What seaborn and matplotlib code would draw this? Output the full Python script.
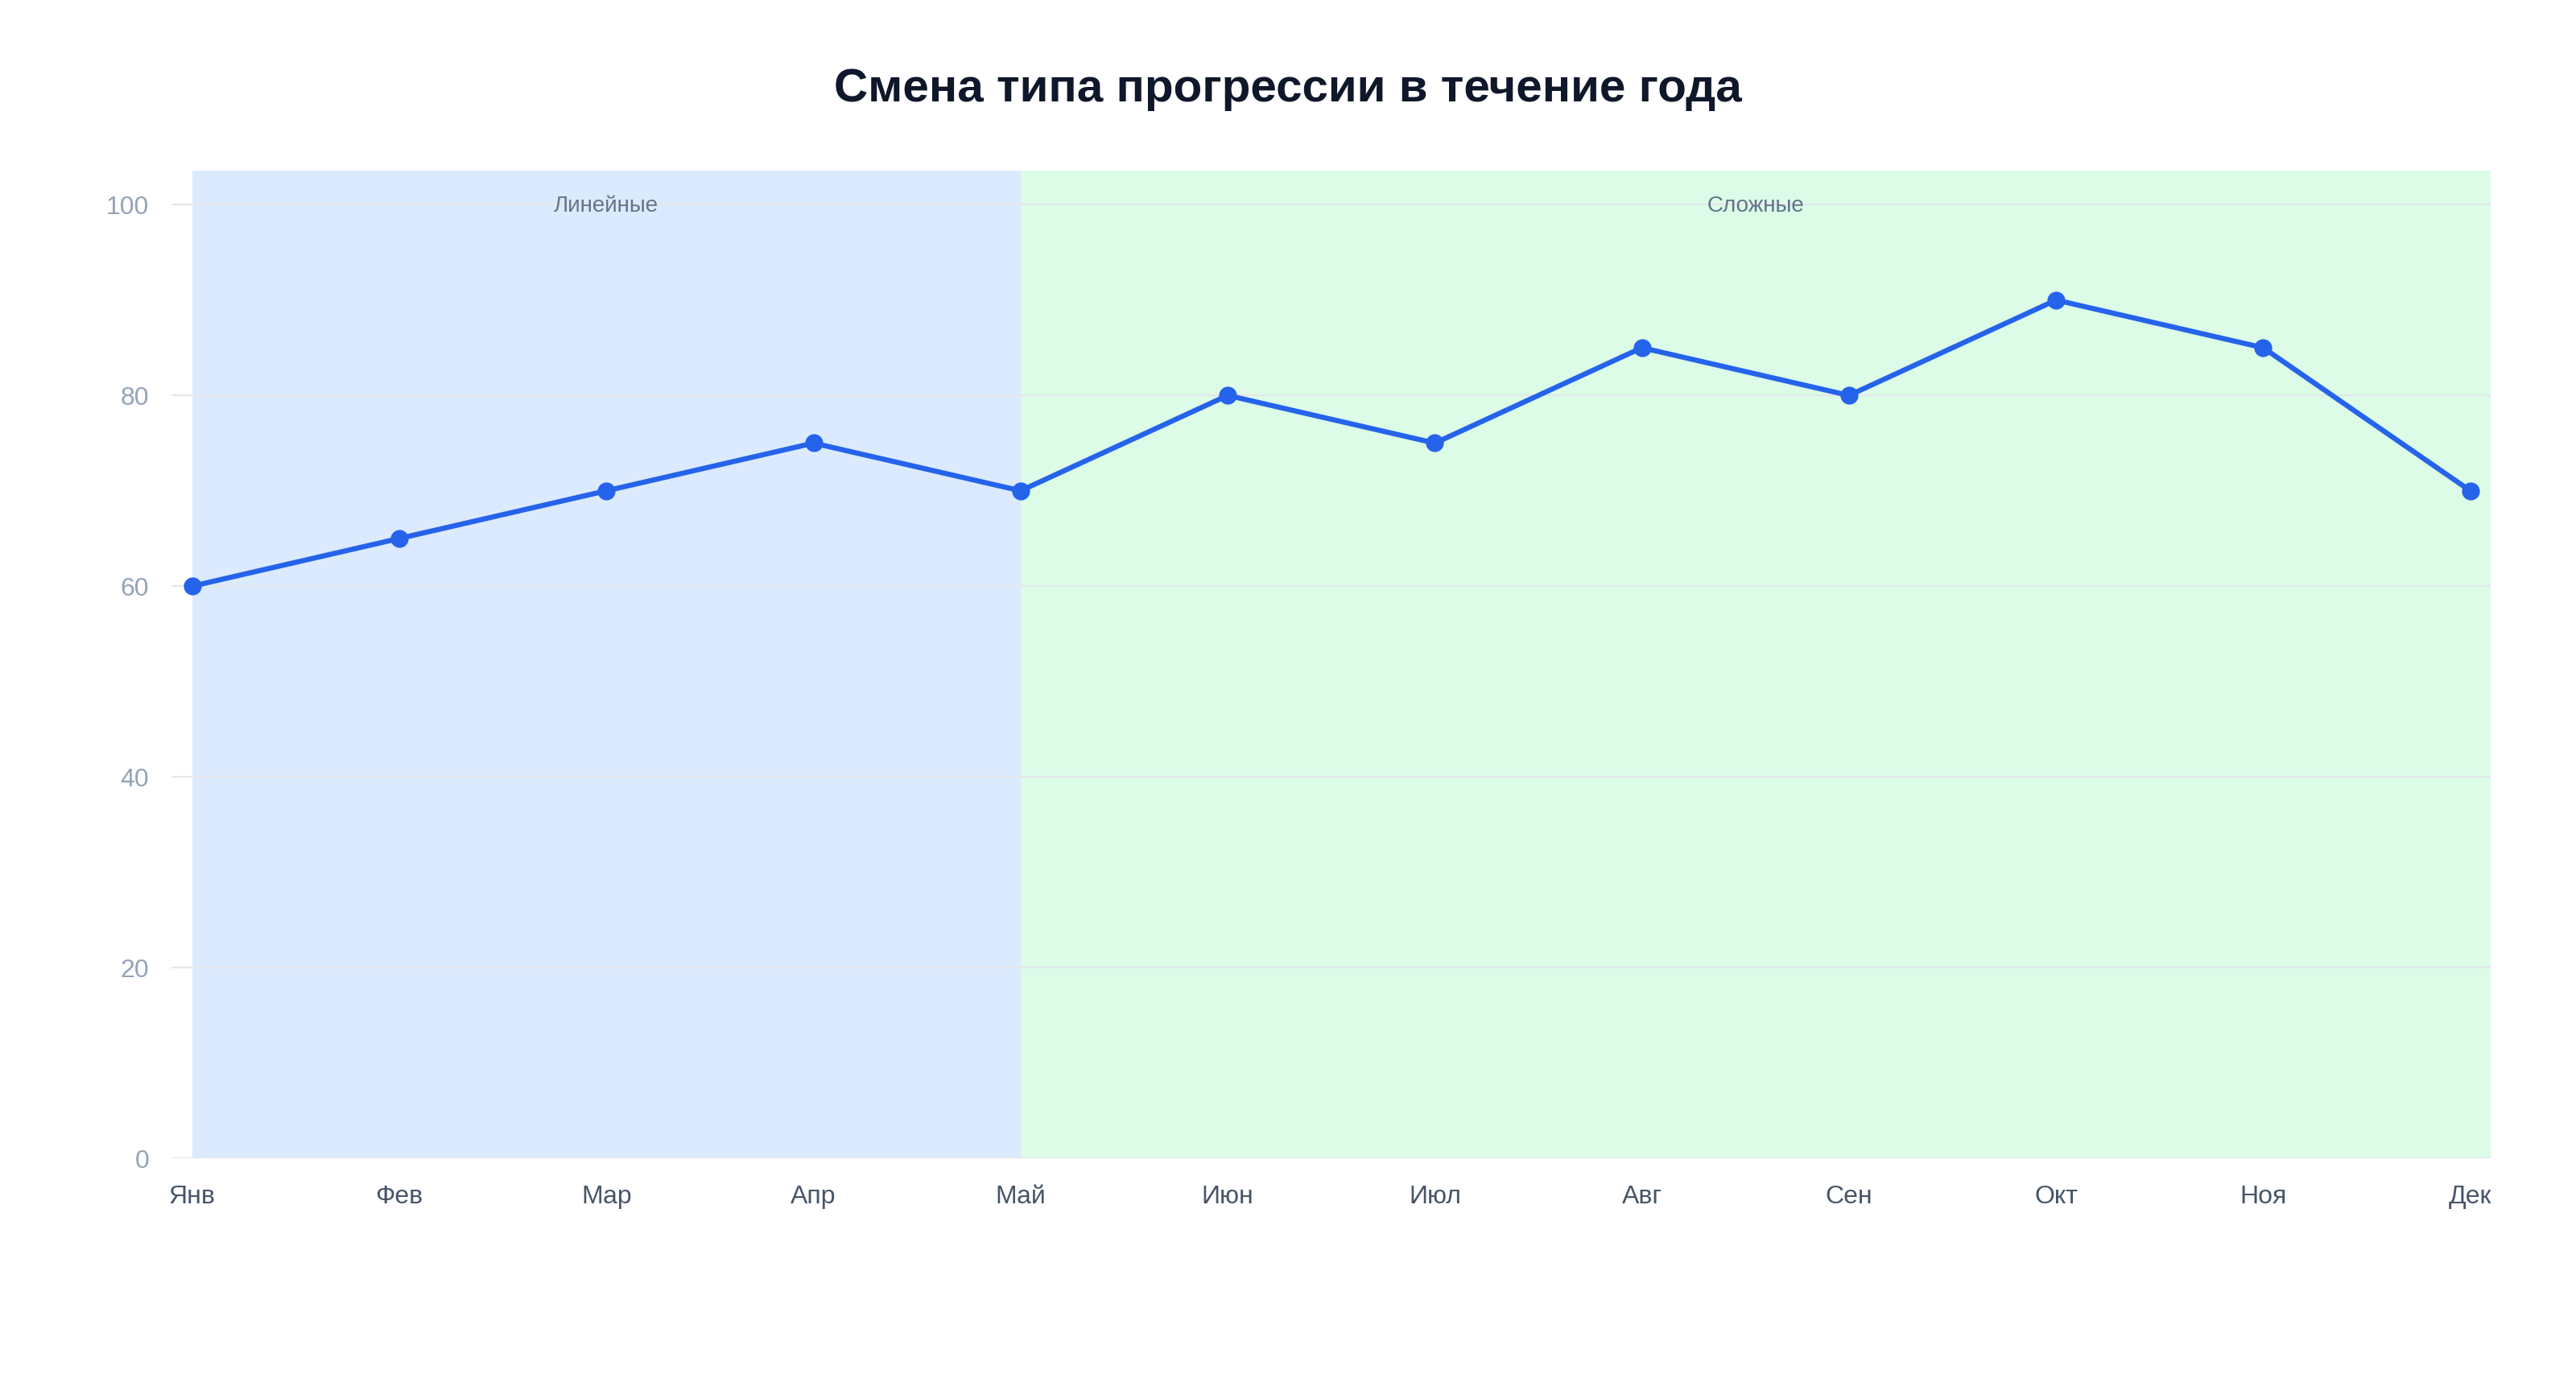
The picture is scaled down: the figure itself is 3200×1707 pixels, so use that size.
import matplotlib
matplotlib.use('Agg')
import matplotlib.pyplot as plt
from matplotlib.transforms import Bbox
import seaborn as sns
import pandas as pd

# Chart data
months = ['Янв', 'Фев', 'Мар', 'Апр', 'Май', 'Июн', 'Июл', 'Авг', 'Сен', 'Окт', 'Ноя', 'Дек']
values = [60, 65, 70, 75, 70, 80, 75, 85, 80, 90, 85, 70]
phase_names = ['Линейные', 'Сложные']
phase_bounds = [('Янв', 'Май'), ('Май', None)]  # None -> to the right edge
phase_colors = ['#dbeafe', '#dcfce7']
y_ticks = [0, 20, 40, 60, 80, 100]

df = pd.DataFrame({'month': months, 'value': values})

sns.set_theme(style='white')
plt.rcParams['font.family'] = ['Liberation Sans', 'DejaVu Sans']

fig, ax = plt.subplots(figsize=(16, 8.535), dpi=200)
fig.subplots_adjust(left=0.0666, right=0.967, top=0.876, bottom=0.157)

x_lo, x_hi = -0.1, len(months) - 1 + 0.1

# shaded phases, behind the grid
for name, (a, b), col in zip(phase_names, phase_bounds, phase_colors):
    x0 = months.index(a)
    x1 = months.index(b) if b else x_hi
    ax.axvspan(x0, x1, color=col, lw=0, zorder=0)
    ax.text((x0 + x1) / 2, 99.9, name, ha='center', va='center',
            fontsize=10, color='#64748b', zorder=3)

sns.lineplot(data=df, x='month', y='value', ax=ax, color='#2563eb',
             linewidth=2.3, marker='o', markersize=8, markeredgewidth=0,
             sort=False, zorder=4)

ax.set_xlim(x_lo, x_hi)
ax.set_ylim(0, 103.6)
ax.set_yticks(y_ticks)
ax.yaxis.grid(True, color='#e5e7eb', linewidth=0.8)
for gl in ax.get_ygridlines():
    gl.set_zorder(1)
ax.tick_params(axis='y', length=0, labelsize=11.5, labelcolor='#94a3b8', pad=10)
ax.tick_params(axis='x', length=0, labelsize=11.5, labelcolor='#475569', pad=12)
for s in ax.spines.values():
    s.set_visible(False)
ax.set_xlabel('')
ax.set_ylabel('')

fig.suptitle('Смена типа прогрессии в течение года', fontsize=21,
             fontweight='bold', color='#0f172a', y=0.935, va='center')

# last month label is cut at the plot's right edge, as in the original
fig.canvas.draw()
bb = ax.bbox
last = ax.get_xticklabels()[-1]
last.set_clip_box(Bbox([[0, 0], [bb.x1, fig.bbox.y1]]))
last.set_clip_on(True)

fig.savefig('out.png', dpi=200, facecolor='white')
